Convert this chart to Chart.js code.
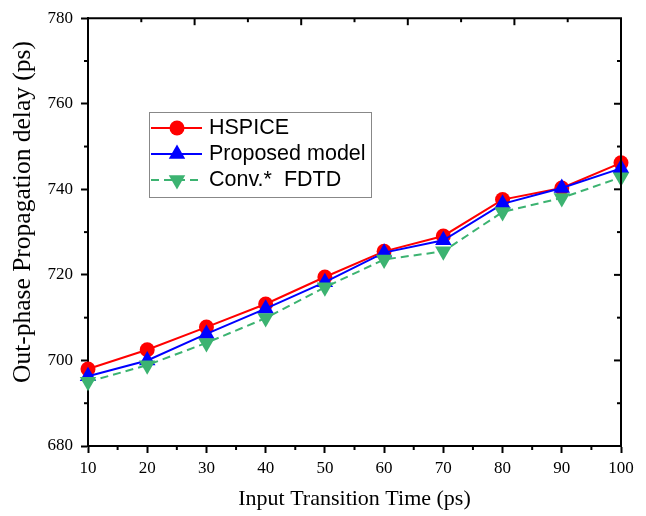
<!DOCTYPE html>
<html>
<head>
<meta charset="utf-8">
<script src="https://cdn.jsdelivr.net/npm/chart.js@4/dist/chart.umd.min.js"></script>
<style>
  html, body { margin: 0; padding: 0; background: #fff; }
  #c { display: block; }
</style>
</head>
<body>
<canvas id="c" width="646" height="516"></canvas>
<script>
// Input transition times (ps)
const transitionTimes = [10, 20, 30, 40, 50, 60, 70, 80, 90, 100];
// Out-phase propagation delay (ps)
const hspice   = [698.0, 702.5, 707.8, 713.2, 719.5, 725.5, 729.1, 737.6, 740.3, 746.2];
const proposed = [696.3, 700.0, 706.2, 712.1, 718.3, 725.2, 728.1, 736.6, 740.3, 744.9];
const convFdtd = [695.0, 698.9, 704.1, 709.9, 717.1, 723.6, 725.5, 734.7, 738.0, 742.8];

const seriesNames = ["HSPICE", "Proposed model", "Conv.*  FDTD"];
const xTicks = [10, 100, 10];   // min, max, step
const yTicks = [680, 780, 20];  // min, max, step

const serif = "'Liberation Serif', 'Times New Roman', serif";
const sans = "'Liberation Sans', Arial, sans-serif";

function points(ys) {
  return transitionTimes.map((t, i) => ({ x: t, y: ys[i] }));
}

// mirrored axes, minor ticks, y title and the boxed legend
const framePlugin = {
  id: "frame",
  afterDraw(chart) {
    const { ctx, chartArea: a, scales } = chart;
    const x = scales.x, y = scales.y, x2 = scales.x2;
    ctx.save();
    ctx.strokeStyle = "#000";
    ctx.lineWidth = 2;
    ctx.beginPath();
    ctx.moveTo(a.left - 1, a.top);
    ctx.lineTo(a.right, a.top);
    ctx.lineTo(a.right, a.bottom + 1);
    ctx.stroke();

    function tick(x1, y1, xx, yy) {
      ctx.beginPath();
      ctx.moveTo(x1, y1);
      ctx.lineTo(xx, yy);
      ctx.stroke();
    }
    // bottom minor ticks
    for (let v = xTicks[0] + 5; v < xTicks[1]; v += 10) {
      const px = x.getPixelForValue(v);
      tick(px, a.bottom, px, a.bottom + 4);
    }
    // left minor ticks
    for (let v = yTicks[0] + 10; v < yTicks[1]; v += 20) {
      const py = y.getPixelForValue(v);
      tick(a.left, py, a.left - 4, py);
    }
    // right ticks, inward
    for (let v = yTicks[0] + 10; v < yTicks[1]; v += 10) {
      const py = y.getPixelForValue(v);
      const len = (v - yTicks[0]) % 20 === 0 ? 7 : 4;
      tick(a.right, py, a.right - len, py);
    }
    // top ticks, inward
    for (let v = 10; v < 100; v += 10) {
      const px = x2.getPixelForValue(v);
      const len = v % 20 === 0 ? 7 : 4;
      tick(px, a.top, px, a.top + len);
    }

    // y axis title
    ctx.save();
    ctx.translate(23, 212);
    ctx.rotate(-Math.PI / 2);
    ctx.fillStyle = "#000";
    ctx.font = "25.5px " + serif;
    ctx.textAlign = "center";
    ctx.textBaseline = "middle";
    ctx.fillText("Out-phase Propagation delay (ps)", 0, 0);
    ctx.restore();

    // legend
    ctx.lineWidth = 1;
    ctx.strokeStyle = "#888";
    ctx.setLineDash([]);
    ctx.strokeRect(149.5, 112.5, 222, 85);
    chart.data.datasets.forEach((ds, i) => {
      const ly = 128 + 26 * i;
      ctx.strokeStyle = ds.borderColor;
      ctx.lineWidth = ds.borderWidth;
      ctx.setLineDash(ds.borderDash || []);
      tick(151, ly, 202, ly);
      ctx.setLineDash([]);
      ctx.fillStyle = ds.pointBackgroundColor;
      Chart.helpers.drawPoint(ctx, {
        pointStyle: ds.pointStyle,
        radius: ds.pointRadius,
        rotation: ds.pointRotation || 0,
        borderWidth: 0
      }, 177, ly);
      ctx.fillStyle = "#000";
      ctx.font = "21.5px " + sans;
      ctx.textAlign = "left";
      ctx.textBaseline = "middle";
      ctx.fillText(seriesNames[i], 209, ly);
    });
    ctx.restore();
  }
};

const ctx = document.getElementById("c").getContext("2d");
new Chart(ctx, {
  type: "line",
  data: {
    datasets: [
      {
        label: seriesNames[0],
        data: points(hspice),
        borderColor: "#ff0000",
        backgroundColor: "#ff0000",
        pointBackgroundColor: "#ff0000",
        borderWidth: 2,
        pointStyle: "circle",
        pointRadius: 7.5,
        pointBorderWidth: 0,
        order: 3
      },
      {
        label: seriesNames[1],
        data: points(proposed),
        borderColor: "#0000ff",
        backgroundColor: "#0000ff",
        pointBackgroundColor: "#0000ff",
        borderWidth: 2,
        pointStyle: "triangle",
        pointRadius: 9.5,
        pointBorderWidth: 0,
        order: 2
      },
      {
        label: seriesNames[2],
        data: points(convFdtd),
        borderColor: "#3cb371",
        backgroundColor: "#3cb371",
        pointBackgroundColor: "#3cb371",
        borderWidth: 2,
        borderDash: [8, 5],
        pointStyle: "triangle",
        pointRotation: 180,
        pointRadius: 9.5,
        pointBorderWidth: 0,
        order: 1
      }
    ]
  },
  options: {
    responsive: false,
    animation: false,
    layout: { padding: { left: 0, top: 17, right: 25, bottom: 0 } },
    elements: { line: { tension: 0 } },
    datasets: { line: { clip: false } },
    plugins: {
      legend: { display: false },
      tooltip: { enabled: false }
    },
    scales: {
      x: {
        type: "linear",
        position: "bottom",
        min: xTicks[0],
        max: xTicks[1],
        afterFit: (s) => { s.height = 70; },
        ticks: {
          stepSize: xTicks[2],
          autoSkip: false,
          maxRotation: 0,
          color: "#000",
          padding: 5,
          font: { family: serif, size: 17 }
        },
        grid: {
          drawOnChartArea: false,
          drawTicks: true,
          tickLength: 7,
          tickWidth: 2,
          tickColor: "#000"
        },
        border: { display: true, color: "#000", width: 2 },
        title: {
          display: true,
          text: "Input Transition Time (ps)",
          color: "#000",
          font: { family: serif, size: 22 },
          padding: { top: 0, bottom: 4 }
        }
      },
      x2: {
        type: "linear",
        position: "top",
        display: false,
        min: 0,
        max: 100
      },
      y: {
        type: "linear",
        min: yTicks[0],
        max: yTicks[1],
        afterFit: (s) => { s.width = 88; },
        ticks: {
          stepSize: yTicks[2],
          color: "#000",
          padding: 8,
          font: { family: serif, size: 17 }
        },
        grid: {
          drawOnChartArea: false,
          drawTicks: true,
          tickLength: 7,
          tickWidth: 2,
          tickColor: "#000"
        },
        border: { display: true, color: "#000", width: 2 }
      }
    }
  },
  plugins: [framePlugin]
});
</script>
</body>
</html>
